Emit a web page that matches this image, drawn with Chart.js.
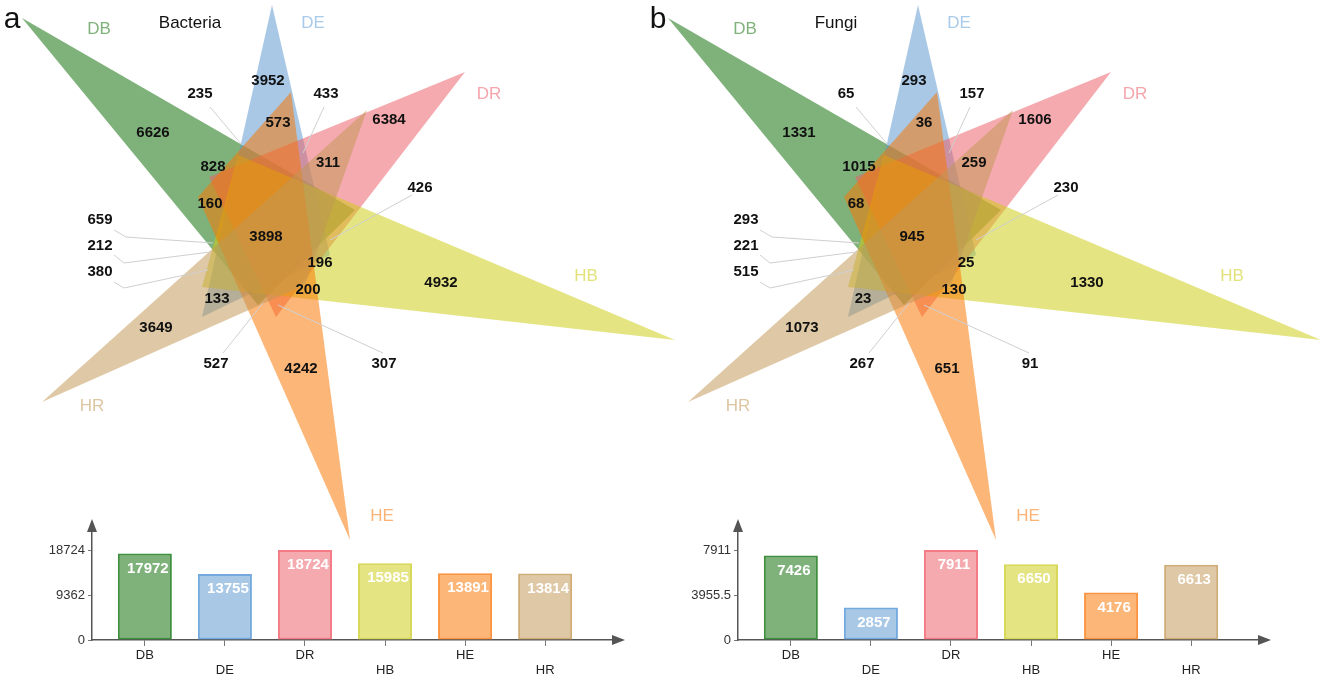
<!DOCTYPE html>
<html>
<head>
<meta charset="utf-8">
<title>Bacteria / Fungi</title>
<script src="https://cdn.jsdelivr.net/npm/chart.js@4.4.1/dist/chart.umd.min.js"></script>
<style>
  html, body { margin: 0; padding: 0; background: #fff; }
  #page { position: relative; width: 1325px; height: 677px; overflow: hidden; }
  #page canvas { position: absolute; }
</style>
</head>
<body>
<div id="page">
  <canvas id="venn" width="1325" height="677" style="left:0;top:0;width:1325px;height:677px"></canvas>
  <canvas id="barsA" width="590" height="172" style="left:40px;top:505px;width:590px;height:172px"></canvas>
  <canvas id="barsB" width="590" height="172" style="left:686px;top:505px;width:590px;height:172px"></canvas>
</div>
<script>
var sets = ["DB", "DE", "DR", "HB", "HE", "HR"];
var bacteriaTotals = [17972, 13755, 18724, 15985, 13891, 13814];
var fungiTotals = [7426, 2857, 7911, 6650, 4176, 6613];
var bacteriaTicks = [0, 9362, 18724];
var fungiTicks = [0, 3955.5, 7911];
// region counts, same order as regionSpots below
var bacteriaRegions = [3952, 235, 433, 573, 6384, 6626, 828, 311, 426, 160, 659, 3898, 212, 196, 380, 4932, 200, 133, 3649, 527, 4242, 307];
var fungiRegions = [293, 65, 157, 36, 1606, 1331, 1015, 259, 230, 68, 293, 945, 221, 25, 515, 1330, 130, 23, 1073, 267, 651, 91];

var fills = ["rgba(13,110,6,0.53)", "rgba(91,151,208,0.53)", "rgba(236,95,104,0.53)",
  "rgba(204,204,19,0.53)", "rgba(249,117,0,0.53)", "rgba(193,151,85,0.53)"];
var borders = ["#3f8f3f", "#73a9dc", "#f47b85", "#d8d85a", "#fb9340", "#d0ad77"];
var nameColors = ["#80b27c", "#a9cbea", "#f5a5ab", "#e2e27c", "#fcb476", "#dcc6a2"];

Chart.defaults.font.family = "'Liberation Sans', Arial, sans-serif";

// star layout of one panel (panel a pixels), panel b is the same shifted right
var shapes = [
  [[22, 18], [355, 210], [258, 305]],
  [[272, 5], [202, 317], [330, 255]],
  [[465, 72], [209, 177], [276, 317]],
  [[675, 340], [238, 155], [202, 287]],
  [[350, 540], [291, 92], [198, 197]],
  [[42, 402], [367, 110], [305, 285]]
];
var drawOrder = [0, 1, 2, 3, 4, 5]; // bottom -> top
var regionSpots = [[268, 81], [200, 94], [326, 94], [278, 123], [389, 120], [153, 133], [213, 167],
  [328, 163], [420, 188], [210, 204], [100, 220], [266, 237], [100, 246], [320, 263], [100, 272],
  [441, 283], [308, 290], [217, 299], [156, 328], [216, 364], [301, 369], [384, 364]];
var leaders = [
  [[210, 107], [242, 145]],
  [[324, 107], [303, 153]],
  [[412, 195], [330, 240]],
  [[114, 230], [126, 237], [213, 243]],
  [[114, 255], [124, 263], [210, 252]],
  [[114, 282], [124, 288], [208, 270]],
  [[223, 353], [263, 303]],
  [[383, 353], [278, 305]]
];
var nameSpots = [[99, 29], [313, 23], [489, 94], [586, 276], [382, 516], [92, 406]];
var titleSpot = [190, 23];
var letterSpot = [12, 20];

var panels = [
  { shift: 0, letter: "a", title: "Bacteria", regions: bacteriaRegions },
  { shift: 646, letter: "b", title: "Fungi", regions: fungiRegions }
];

function pts(list, dx) {
  return list.map(function (p) { return { x: p[0] + dx, y: p[1] }; });
}

var vennSets = [];
panels.forEach(function (panel) {
  drawOrder.forEach(function (k, level) {
    var tri = shapes[k];
    vennSets.push({
      data: pts(tri.concat([tri[0]]), panel.shift),
      showLine: true,
      fill: "shape",
      backgroundColor: fills[k],
      borderColor: "rgba(0,0,0,0)",
      borderWidth: 0,
      pointRadius: 0,
      order: 20 - level,
    });
  });
  leaders.forEach(function (line) {
    vennSets.push({
      data: pts(line, panel.shift),
      showLine: true,
      fill: false,
      borderColor: "#cfcfcf",
      borderWidth: 1,
      pointRadius: 0,
      order: 0,
    });
  });
});

var vennText = {
  id: "vennText",
  afterDatasetsDraw: function (chart) {
    var ctx = chart.ctx, sx = chart.scales.x, sy = chart.scales.y;
    function put(text, p, dx, font, color) {
      ctx.font = font;
      ctx.fillStyle = color;
      ctx.fillText(text, sx.getPixelForValue(p[0] + dx), sy.getPixelForValue(p[1]));
    }
    ctx.save();
    ctx.textAlign = "center";
    ctx.textBaseline = "middle";
    panels.forEach(function (panel) {
      panel.regions.forEach(function (n, i) {
        put(String(n), regionSpots[i], panel.shift, "bold 15px 'Liberation Sans', Arial, sans-serif", "#111");
      });
      sets.forEach(function (s, i) {
        put(s, nameSpots[i], panel.shift, "17px 'Liberation Sans', Arial, sans-serif", nameColors[i]);
      });
      put(panel.title, titleSpot, panel.shift, "17px 'Liberation Sans', Arial, sans-serif", "#111");
      put(panel.letter, letterSpot, panel.shift, "30px 'Liberation Sans', Arial, sans-serif", "#111");
    });
    ctx.restore();
  },
};

new Chart(document.getElementById("venn"), {
  type: "scatter",
  data: { datasets: vennSets },
  options: {
    responsive: false,
    animation: false,
    events: [],
    layout: { padding: 0 },
    plugins: { legend: { display: false }, tooltip: { enabled: false } },
    scales: {
      x: { type: "linear", min: 0, max: 1325, display: false },
      y: { type: "linear", min: 0, max: 677, reverse: true, display: false },
    },
  },
  plugins: [vennText],
});

var axisArrows = {
  id: "axisArrows",
  afterDraw: function (chart) {
    var a = chart.chartArea, ctx = chart.ctx;
    ctx.save();
    ctx.fillStyle = "#555";
    ctx.beginPath();
    ctx.moveTo(a.left, a.top - 3);
    ctx.lineTo(a.left - 5, a.top + 10);
    ctx.lineTo(a.left + 5, a.top + 10);
    ctx.closePath();
    ctx.fill();
    ctx.beginPath();
    ctx.moveTo(a.right + 3, a.bottom);
    ctx.lineTo(a.right - 10, a.bottom - 5);
    ctx.lineTo(a.right - 10, a.bottom + 5);
    ctx.closePath();
    ctx.fill();
    ctx.restore();
  },
};

var barValues = {
  id: "barValues",
  afterDatasetsDraw: function (chart) {
    var ctx = chart.ctx;
    var meta = chart.getDatasetMeta(0);
    var values = chart.data.datasets[0].data;
    ctx.save();
    ctx.font = "bold 15px 'Liberation Sans', Arial, sans-serif";
    ctx.fillStyle = "#fff";
    ctx.textAlign = "center";
    ctx.textBaseline = "middle";
    meta.data.forEach(function (bar, i) {
      ctx.fillText(String(values[i].y), bar.x + 3, bar.y + 15);
    });
    ctx.restore();
  },
};

function barChart(id, totals, ticks) {
  var topTick = ticks[ticks.length - 1];
  return new Chart(document.getElementById(id), {
    type: "bar",
    data: {
      datasets: [{
        data: totals.map(function (v, i) { return { x: i, y: v }; }),
        backgroundColor: fills,
        borderColor: borders,
        borderWidth: 2,
        borderSkipped: false,
        categoryPercentage: 0.75,
        barPercentage: 0.9,
      }],
    },
    options: {
      responsive: false,
      animation: false,
      events: [],
      layout: { padding: { left: 0, right: 8, top: 17, bottom: 0 } },
      plugins: { legend: { display: false }, tooltip: { enabled: false } },
      scales: {
        x: {
          type: "linear",
          min: -0.66,
          max: 5.96,
          offset: false,
          grid: { display: true, drawOnChartArea: false, offset: false, tickLength: 6, color: "#777" },
          border: { color: "#555", width: 1.5 },
          afterBuildTicks: function (s) {
            s.ticks = sets.map(function (n, i) { return { value: i }; });
          },
          afterFit: function (s) { s.height = 37; },
          ticks: {
            padding: 2,
            autoSkip: false,
            maxRotation: 0,
            color: "#222",
            font: { size: 13, lineHeight: 1.15 },
            callback: function (v) {
              var i = Math.round(v);
              return i % 2 ? ["", sets[i]] : sets[i];
            },
          },
        },
        y: {
          min: 0,
          max: topTick * 118 / 90,
          grid: { display: true, drawOnChartArea: false, tickLength: 4, color: "#777" },
          border: { color: "#555", width: 1.5 },
          afterBuildTicks: function (s) {
            s.ticks = ticks.map(function (v) { return { value: v }; });
          },
          afterFit: function (s) { s.width = 52; },
          ticks: {
            padding: 3,
            color: "#333",
            font: { size: 13 },
            callback: function (v) { return String(v); },
          },
        },
      },
    },
    plugins: [axisArrows, barValues],
  });
}

barChart("barsA", bacteriaTotals, bacteriaTicks);
barChart("barsB", fungiTotals, fungiTicks);
</script>
</body>
</html>
